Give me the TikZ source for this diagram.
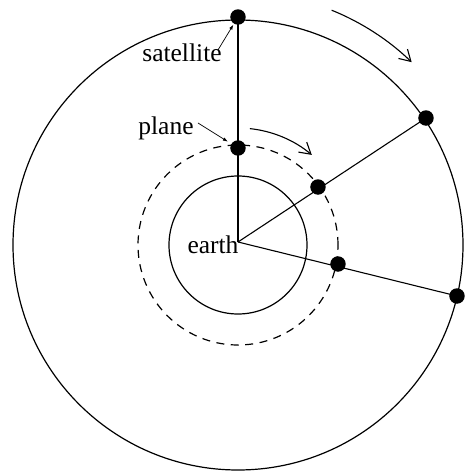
\documentclass[tikz,border=0pt]{standalone}
\usepackage{fontspec}
\setmainfont{Liberation Serif}
\usetikzlibrary{positioning, calc, arrows.meta}
\tikzset{
    body/.style={circle, fill=black, inner sep=0pt, minimum size=15.5pt},
    orbitline/.style={line width=1.2pt},
    tag/.style={inner sep=0pt, anchor=base, font=\fontsize{25.5}{30}\selectfont},
    pointer/.style={-{Latex[length=5pt, width=3.5pt]}, line width=0.7pt},
    motion/.style={-{Straight Barb[length=11pt, width=13pt]}, line width=1.1pt},
    ray/.style={line width=1.1pt},
}

\begin{document}
\begin{tikzpicture}[x=1pt, y=1pt]
    \useasboundingbox (-238,-230) rectangle (228,242);
    % orbits
    \coordinate (mid) at (0,-3);
    \draw[orbitline] (mid) circle[radius=225];
    \draw[orbitline, dashed, dash pattern=on 8pt off 6.5pt] (mid) circle[radius=100];
    \draw[orbitline] (mid) circle[radius=69];
    \coordinate (earth) at (0,0);

    % satellites and planes
    \node[body] (sat1) at (0,225) {};
    \node[body] (sat2) at (188,124) {};
    \node[body] (sat3) at (219,-54) {};
    \node[body] (pl1) at (0,94) {};
    \node[body] (pl2) at (80,55) {};
    \node[body] (pl3) at (100,-22) {};

    \draw[ray] (earth) -- (sat1.center);
    \draw[ray] (earth) -- (sat2.center);
    \draw[ray] (earth) -- (sat3.center);

    % labels
    \node[tag] (satlabel) at (-56,181) {satellite};
    \node[tag] (planelabel) at (-72,108) {plane};
    \node[tag] (earthlabel) at (-25,-11) {earth};
    \coordinate (sattail) at (-20,192);
    \coordinate (planetail) at (-40,119);
    \draw[pointer, shorten >=1pt] (sattail) -- (sat1);
    \draw[pointer, shorten >=4pt] (planetail) -- (pl1);

    % direction of motion
    \draw[motion] (68:250) arc[start angle=68, end angle=46, radius=250];
    \draw[motion] (84:114) arc[start angle=84, end angle=50, radius=115];
\end{tikzpicture}
\end{document}
